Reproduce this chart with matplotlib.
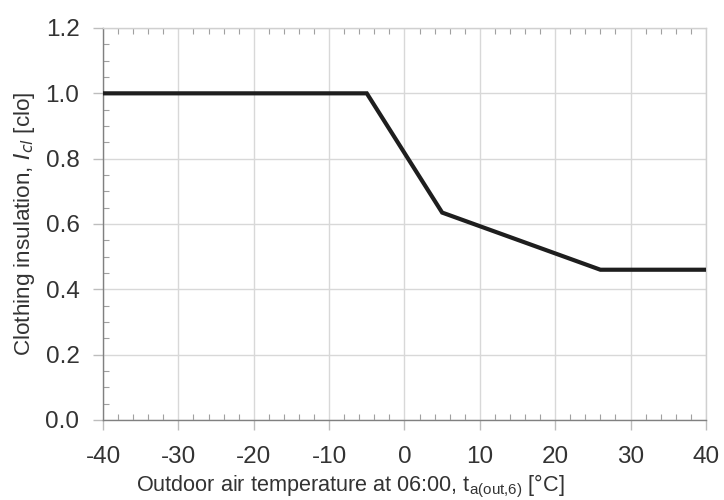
import matplotlib
matplotlib.use("Agg")
import matplotlib.pyplot as plt
from matplotlib.ticker import MultipleLocator, FormatStrFormatter

plt.rcParams['font.family'] = ['Liberation Sans', 'DejaVu Sans']
plt.rcParams['axes.unicode_minus'] = False

temp = [-40, -5, 5, 26, 40]
clo = [1.0, 1.0, 0.635, 0.46, 0.46]

fig = plt.figure(figsize=(7.24, 5.0), dpi=100)
ax = fig.add_axes([0.1423, 0.16, 0.8327, 0.784])

ax.plot(temp, clo, color='#1e1e1e', lw=3.0, solid_joinstyle='miter', zorder=3)

ax.set_xlim(-40, 40)
ax.set_ylim(0, 1.2)
ax.xaxis.set_major_locator(MultipleLocator(10))
ax.xaxis.set_minor_locator(MultipleLocator(2))
ax.yaxis.set_major_locator(MultipleLocator(0.2))
ax.yaxis.set_minor_locator(MultipleLocator(0.05))
ax.yaxis.set_major_formatter(FormatStrFormatter('%.1f'))

ax.grid(True, which='major', color='#d8d8d8', lw=1.0, zorder=0)
for s in ['left', 'bottom']:
    ax.spines[s].set_color('#808080')
    ax.spines[s].set_linewidth(1.0)
for s in ['top', 'right']:
    ax.spines[s].set_color('#d0d0d0')
    ax.spines[s].set_linewidth(1.0)

ax.tick_params(axis='both', which='major', labelsize=17.5, colors='#bdbdbd',
               labelcolor='#333333', length=7, width=1.0, direction='out')
ax.tick_params(axis='x', which='major', pad=12)
ax.tick_params(axis='y', which='major', pad=10)
ax.tick_params(axis='both', which='minor', length=4, width=0.8, colors='#a0a0a0',
               direction='in', top=True)

ax.set_xlabel('Outdoor air temperature at 06:00, t$_{\\mathregular{a(out{,}6)}}$ [°C]',
              fontsize=15.6, color='#333333')
ax.xaxis.set_label_coords(0.41, -0.135)
ax.set_ylabel('Clothing insulation, $\\mathit{I}_{\\mathit{cl}}$ [clo]',
              fontsize=16.2, color='#333333', labelpad=6)

fig.savefig('out.png', dpi=100)
